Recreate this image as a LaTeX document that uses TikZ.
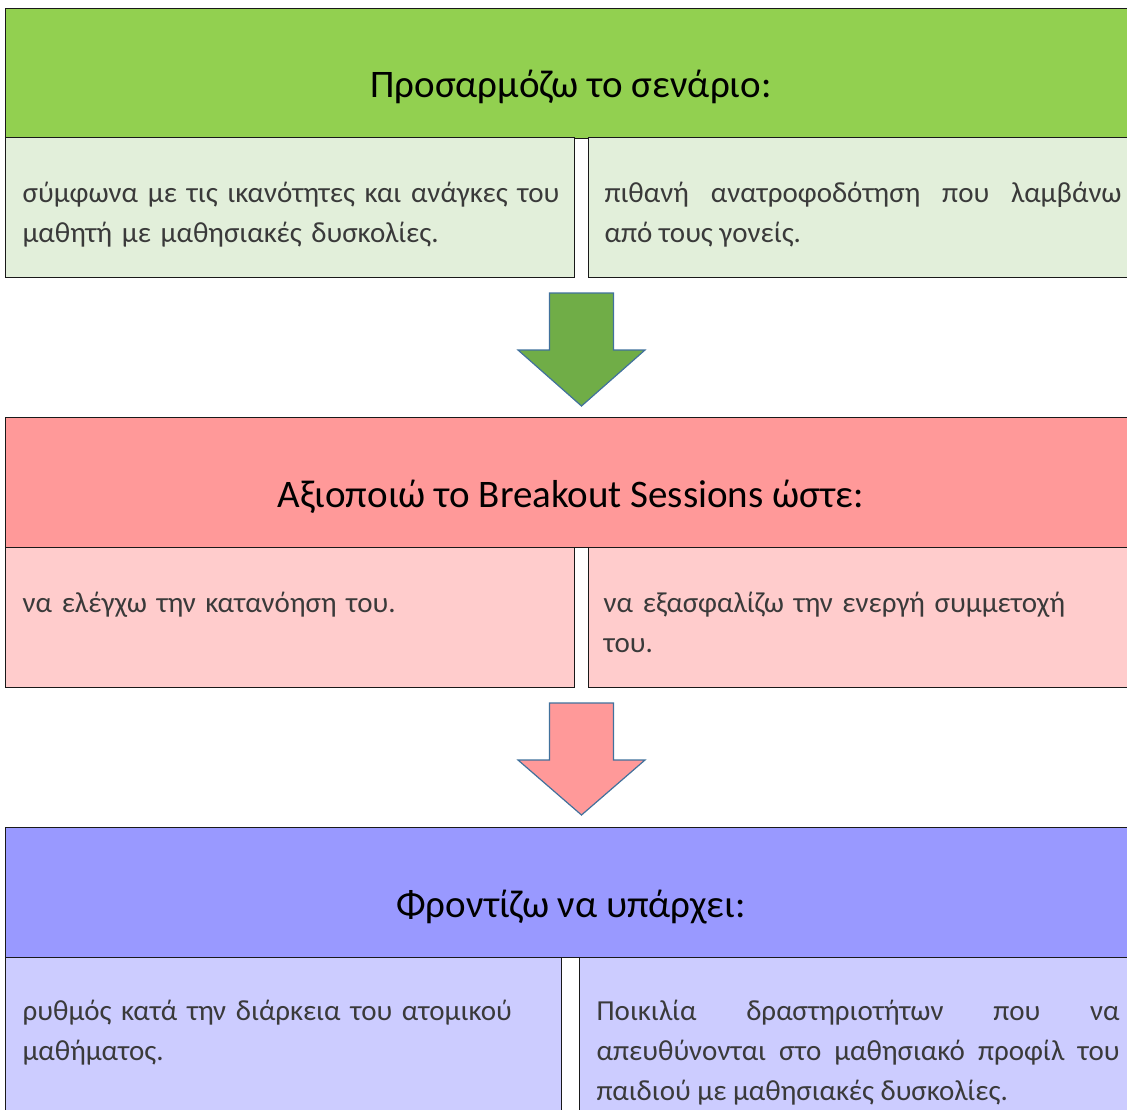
\documentclass[tikz,border=0pt]{standalone}
\usepackage{fontspec}
\setmainfont{Carlito}
\definecolor{cgreen}{HTML}{92D050}
\definecolor{cgreenlt}{HTML}{E2EFDA}
\definecolor{cgreendk}{HTML}{70AD47}
\definecolor{cred}{HTML}{FF9999}
\definecolor{credlt}{HTML}{FFCCCC}
\definecolor{cblue}{HTML}{9999FF}
\definecolor{cbluelt}{HTML}{CCCCFF}
\definecolor{cline}{HTML}{41719C}
\definecolor{cdark}{HTML}{3A3A3A}
\tikzset{
  every picture/.style={line width=1.3pt},
  head/.style={draw=black!90, fill=#1, anchor=north west, minimum width=1150pt, minimum height=130pt, inner sep=0pt},
  cell/.style={draw=black!90, fill=#1, anchor=north west, minimum height=140pt, inner sep=0pt},
  headtext/.style={font=\fontsize{39}{46}\selectfont, anchor=base, inner sep=0pt},
  celltext/.style={font=\fontsize{29}{40}\selectfont, text=cdark, anchor=north west, inner sep=0pt, text width=#1},
  blockarrow/.style={draw=cline, fill=#1, line width=1.2pt, line join=miter},
}
\newcommand{\firstline}{\rule{0pt}{30pt}}

\begin{document}
\begin{tikzpicture}[x=1pt, y=-1pt]
  \useasboundingbox (0,0) rectangle (1127,1110);
  % first block: the scenario
  \node[head=cgreen] (head1) at (5,8) {};
  \node[headtext] (title1) at (571,98) {Προσαρμόζω το σενάριο:};
  \node[cell=cgreenlt, minimum width=569pt] (cell1a) at (5,137) {};
  \node[cell=cgreenlt, minimum width=560pt] (cell1b) at (588,137) {};
  \node[celltext=548pt, align=left] (text1a) at (22,172) {\firstline σύμφωνα με τις ικανότητες και ανάγκες του\\ μαθητή με μαθησιακές δυσκολίες.};
  \node[celltext=517pt, align=justify] (text1b) at (604,172) {\firstline πιθανή ανατροφοδότηση που λαμβάνω\linebreak από τους γονείς.};
  % arrow down to the second block
  \coordinate (arrow1) at (581.5,293);
  \draw[blockarrow=cgreendk] (arrow1) ++(-32,0) -- ++(64,0) -- ++(0,57) -- ++(31.5,0) -- ++(-63.5,56) -- ++(-63.5,-56) -- ++(31.5,0) -- cycle;

  % second block: breakout sessions
  \node[head=cred] (head2) at (5,417) {};
  \node[headtext] (title2) at (571,507) {Αξιοποιώ το Breakout Sessions ώστε:};
  \node[cell=credlt, minimum width=569pt] (cell2a) at (5,547) {};
  \node[cell=credlt, minimum width=560pt] (cell2b) at (588,547) {};
  \node[celltext=545pt, align=left] (text2a) at (22,582) {\firstline να ελέγχω την κατανόηση του.};
  \node[celltext=520pt, align=left] (text2b) at (603,582) {\firstline να εξασφαλίζω την ενεργή συμμετοχή\\ του.};
  % arrow down to the third block
  \coordinate (arrow2) at (581.5,703);
  \draw[blockarrow=cred] (arrow2) ++(-32,0) -- ++(64,0) -- ++(0,57) -- ++(31.5,0) -- ++(-63.5,55) -- ++(-63.5,-55) -- ++(31.5,0) -- cycle;

  % third block
  \node[head=cblue] (head3) at (5,827) {};
  \node[headtext] (title3) at (571,917) {Φροντίζω να υπάρχει:};
  \node[cell=cbluelt, minimum width=556pt, minimum height=180pt] (cell3a) at (5,957) {};
  \node[cell=cbluelt, minimum width=570pt, minimum height=180pt] (cell3b) at (579,957) {};
  \node[celltext=530pt, align=left] (text3a) at (22,990) {\firstline ρυθμός κατά την διάρκεια του ατομικού\\ μαθήματος.};
  \node[celltext=523pt, align=justify] (text3b) at (596,990) {\firstline Ποικιλία δραστηριοτήτων που να\linebreak απευθύνονται στο μαθησιακό προφίλ του\linebreak παιδιού με μαθησιακές δυσκολίες.};
\end{tikzpicture}
\end{document}
